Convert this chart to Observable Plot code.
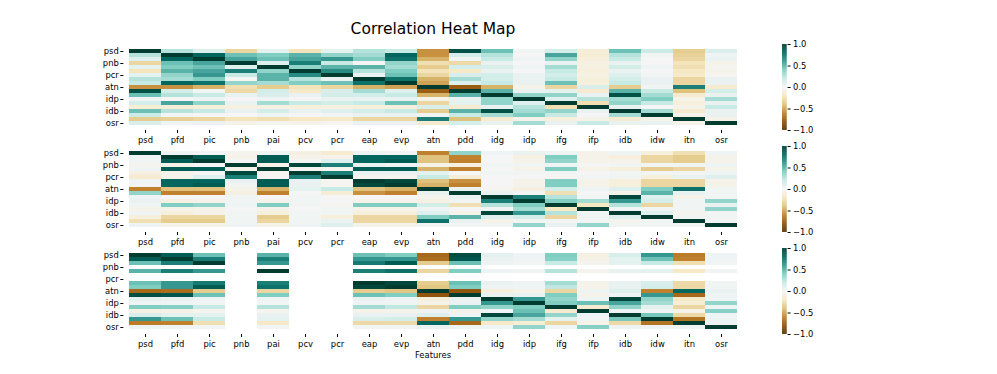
<!DOCTYPE html>
<html><head><meta charset="utf-8">
<script src="https://cdn.jsdelivr.net/npm/d3@7"></script>
<script src="https://cdn.jsdelivr.net/npm/@observablehq/plot@0.6"></script>
<style>
body{margin:0;background:#fff;}
#fig{position:relative;width:997px;height:374px;overflow:hidden;font-family:"DejaVu Sans",sans-serif;color:#000;}
#fig > *{position:absolute;}
.title{left:0;width:866px;text-align:center;font-size:15.5px;line-height:1;top:22px;}
.xlab{left:0;width:866px;text-align:center;font-size:8.4px;line-height:1;top:350.5px;}
</style></head><body><div id="fig"></div>
<script>
const features = ["psd","pfd","pic","pnb","pai","pcv","pcr","eap","evp","atn","pdd","idg","idp","ifg","ifp","idb","idw","itn","osr"];
const yTicks = ["psd","pnb","pcr","atn","idp","idb","osr"];
const cbarTicks = [-1, -0.5, 0, 0.5, 1];
const brbgStops = [-1,-0.8,-0.6,-0.4,-0.2,0,0.2,0.4,0.6,0.8,1];
const brbgColors = ["#543005","#8c510a","#bf812d","#dfc27d","#f6e8c3","#f5f5f5","#c7eae5","#80cdc1","#35978f","#01665e","#003c30"];
const N = null;

const panel1 = [
[1,.25,.10,-.30,.08,-.22,.08,.25,.20,-.55,.90,.45,.02,.15,-.12,.45,.18,-.35,.12],
[.25,1,.80,.45,.40,.50,.35,.30,.80,-.55,.15,.25,.00,.55,-.12,.25,.02,-.32,.03],
[.10,.80,1,.55,.45,.55,.60,.40,.75,-.45,.02,.20,.03,.35,-.10,.20,.00,-.30,.05],
[-.30,.45,.55,1,.10,.70,.20,.00,.35,-.25,-.28,.05,.00,.05,-.08,.05,.00,-.22,-.05],
[.08,.40,.45,.10,1,.35,.50,.50,.30,-.35,.15,.12,.03,.30,-.08,.15,.03,-.25,-.03],
[-.22,.50,.55,.70,.35,1,.65,.25,.40,-.22,-.18,.05,.00,.20,-.10,.05,.00,-.20,-.05],
[.08,.35,.60,.20,.50,.65,1,.05,.45,-.30,.12,.15,.05,.15,-.08,.10,.02,-.18,-.02],
[.25,.30,.40,.00,.50,.25,.05,1,.75,-.45,.30,.15,.05,.20,-.10,.15,.05,-.30,.05],
[.20,.80,.75,.35,.30,.40,.45,.75,1,-.50,.10,.20,.05,.45,-.10,.20,.05,-.30,.05],
[-.55,-.55,-.45,-.25,-.35,-.22,-.30,-.45,-.50,1,-.75,-.45,-.05,-.30,.12,-.35,.02,.70,-.15],
[.90,.15,.02,-.28,.15,-.18,.12,.30,.10,-.75,1,.50,.05,.08,-.15,.50,.20,-.40,.15],
[.45,.25,.20,.05,.12,.05,.15,.15,.20,-.45,.50,1,.35,.35,.05,.90,.30,-.15,.05],
[.02,.00,.03,.00,.03,.00,.05,.05,.05,-.05,.05,.35,1,.10,.25,.30,.40,-.05,.30],
[.15,.55,.35,.05,.30,.20,.15,.20,.45,-.30,.08,.35,.10,1,-.25,.35,.20,-.10,.05],
[-.12,-.12,-.10,-.08,-.08,-.10,-.08,-.10,-.10,.12,-.15,.05,.25,-.25,1,.05,.00,-.05,.20],
[.45,.25,.20,.05,.15,.05,.10,.15,.20,-.35,.50,.90,.30,.35,.05,1,.30,-.15,.05],
[.18,.02,.00,.00,.03,.00,.02,.05,.05,.02,.20,.30,.40,.20,.00,.30,1,-.05,.05],
[-.35,-.32,-.30,-.22,-.25,-.20,-.18,-.30,-.30,.70,-.40,-.15,-.05,-.10,-.05,-.15,-.05,1,-.05],
[.12,.03,.05,-.05,-.03,-.05,-.02,.05,.05,-.15,.15,.05,.30,.05,.20,.05,.05,-.05,1]
];

const panel2 = [
[1,.03,.02,-.03,.03,-.08,-.15,.03,.02,-.60,.35,.03,.05,.03,-.05,.03,-.10,-.25,.03],
[.03,1,.85,-.05,.85,-.05,-.05,.80,.80,-.40,-.60,.00,-.08,.40,-.05,-.10,-.30,-.35,-.05],
[.02,.85,1,.00,.85,.00,.10,.80,.85,-.40,-.60,.00,-.05,.35,-.05,-.05,-.30,-.35,-.05],
[-.03,-.05,.00,1,-.05,.95,.70,.05,.02,-.05,-.08,.02,.02,.03,.00,.02,.02,.02,.03],
[.03,.85,.85,-.05,1,-.02,-.02,.85,.85,-.45,-.60,.00,-.05,.40,-.05,-.10,-.35,-.30,-.05],
[-.08,-.05,.00,.95,-.02,1,.70,.05,.05,.08,.00,.02,.02,.02,.00,.02,.02,.02,.03],
[-.15,-.05,.10,.70,-.02,.70,1,-.02,-.02,.20,-.12,.00,.00,-.02,.02,.02,-.10,.05,.10],
[.03,.80,.80,.05,.85,.05,-.02,1,.95,-.40,-.55,.00,-.05,.40,-.05,-.10,-.30,-.30,-.05],
[.02,.80,.85,.02,.85,.05,-.02,.95,1,-.45,-.60,.00,-.05,.40,-.05,-.10,-.30,-.30,-.05],
[-.60,-.40,-.40,-.05,-.45,.08,.20,-.40,-.45,1,.05,-.03,-.08,.15,.03,.10,.40,.75,.02],
[.35,-.60,-.60,-.08,-.60,.00,-.12,-.55,-.60,.05,1,.05,.02,-.25,.00,-.05,.50,.05,.02],
[.03,.00,.00,.02,.00,.02,.00,.00,.00,-.03,.05,1,.70,.25,.02,.95,.10,-.05,.02],
[.05,-.08,-.05,.02,-.05,.02,.00,-.05,-.05,-.08,.02,.70,1,.40,.30,.60,.15,.02,.35],
[.03,.40,.35,.03,.40,.02,-.02,.40,.40,.15,-.25,.25,.40,1,-.20,.25,-.30,.02,.05],
[-.05,-.05,-.05,.00,-.05,.00,.02,-.05,-.05,.03,.00,.02,.30,-.20,1,.02,.02,.02,.35],
[.03,-.10,-.05,.02,-.10,.02,.02,-.10,-.10,.10,-.05,.95,.60,.25,.02,1,.10,-.03,.02],
[-.10,-.30,-.30,.02,-.35,.02,-.10,-.30,-.30,.40,.50,.10,.15,-.30,.02,.10,1,.02,.02],
[-.25,-.35,-.35,.02,-.30,.02,.05,-.30,-.30,.75,.05,-.05,.02,.02,.02,-.03,.02,1,.02],
[.03,-.05,-.05,.03,-.05,.03,.10,-.05,-.05,.02,.02,.02,.35,.05,.35,.02,.02,.02,1]
];

const panel3 = [
[1,.85,.45,N,.50,N,N,.45,.40,-.70,.92,.08,.03,.40,-.08,.12,.60,-.62,.03],
[.85,1,.70,N,.70,N,N,.60,.60,-.68,.88,.05,.03,.38,-.06,.08,.45,-.60,.03],
[.45,.70,1,N,.60,N,N,.72,.85,-.35,.45,.03,.02,.20,-.03,.08,.20,-.25,.02],
[N,N,N,N,N,N,N,N,N,N,N,N,N,N,N,N,N,N,N],
[.50,.70,.60,N,1,N,N,.70,.75,-.30,.40,.03,.02,.25,-.03,.05,.08,-.18,.02],
[N,N,N,N,N,N,N,N,N,N,N,N,N,N,N,N,N,N,N],
[N,N,N,N,N,N,N,N,N,N,N,N,N,N,N,N,N,N,N],
[.45,.60,.72,N,.70,N,N,1,.95,-.35,.45,.05,.03,.30,-.05,.05,.12,-.28,.02],
[.40,.60,.85,N,.75,N,N,.95,1,-.38,.40,.03,.03,.22,-.05,.05,.15,-.28,.02],
[-.70,-.68,-.35,N,-.30,N,N,-.35,-.38,1,-.78,-.10,-.05,-.30,.03,.10,-.60,.80,.05],
[.92,.88,.45,N,.40,N,N,.45,.40,-.78,1,.05,.05,.40,-.05,.03,.60,-.70,.03],
[.08,.05,.03,N,.03,N,N,.05,.03,-.10,.05,1,.60,.35,.03,.95,.35,-.18,.03],
[.03,.03,.02,N,.02,N,N,.03,.03,-.05,.05,.60,1,.40,.45,.55,.30,-.12,.35],
[.40,.38,.20,N,.25,N,N,.30,.22,-.30,.40,.35,.40,1,-.15,.35,.08,-.30,.03],
[-.08,-.06,-.03,N,-.03,N,N,-.05,-.05,.03,-.05,.03,.45,-.15,1,.03,.02,-.05,.38],
[.12,.08,.08,N,.05,N,N,.05,.05,.10,.03,.95,.55,.35,.03,1,.42,-.28,.03],
[.60,.45,.20,N,.08,N,N,.12,.15,-.60,.60,.35,.30,.08,.02,.42,1,-.65,.03],
[-.62,-.60,-.25,N,-.18,N,N,-.28,-.28,.80,-.70,-.18,-.12,-.30,-.05,-.28,-.65,1,.03],
[.03,.03,.02,N,.02,N,N,.02,.02,.05,.03,.03,.35,.03,.38,.03,.03,.03,1]
];

const fig = document.getElementById("fig");
const L = 123.3, R = 743, H = 86, mt = 4, mb = 18;
const tops = [44, 146, 248];
const colorOpts = {type: "linear", domain: brbgStops, range: brbgColors, interpolate: "rgb"};
const baseStyle = {background: "transparent", fontFamily: "DejaVu Sans", fontSize: "8.4px", color: "#000", overflow: "visible"};

function heat(matrix, top) {
  const data = [];
  matrix.forEach((row, i) => row.forEach((v, j) => {
    if (v != null) data.push({x: features[j], y: features[i], v});
  }));
  const p = Plot.plot({
    width: 997, height: H + mt + mb,
    marginLeft: L, marginRight: 997 - R, marginTop: mt, marginBottom: mb,
    style: baseStyle,
    x: {domain: features, padding: 0, tickSize: 3, tickPadding: 3.5, label: null},
    y: {domain: features, padding: 0, ticks: yTicks, tickSize: 3, tickPadding: 2, label: null},
    color: colorOpts,
    marks: [Plot.cell(data, {x: "x", y: "y", fill: "v", inset: 0, shapeRendering: "crispEdges"})]
  });
  p.style.left = "0px";
  p.style.top = (top - mt) + "px";
  fig.append(p);
}

function cbar(top) {
  const steps = d3.range(200).map(i => -1 + i * 0.01);
  const w = 50, bw = 4.6;
  const p = Plot.plot({
    width: w, height: H + mt + mb,
    marginLeft: 0, marginRight: w - bw, marginTop: mt, marginBottom: mb,
    style: baseStyle,
    x: {domain: [0, 1], axis: null},
    y: {domain: [-1, 1], ticks: cbarTicks, tickFormat: d3.format(".1f"), axis: "right", tickSize: 3, tickPadding: 3, label: null},
    color: colorOpts,
    marks: [Plot.rect(steps, {x1: () => 0, x2: () => 1, y1: d => d, y2: d => Math.min(1, d + 0.016), fill: d => d + 0.005})]
  });
  p.style.left = "781.5px";
  p.style.top = (top - mt) + "px";
  fig.append(p);
}

[panel1, panel2, panel3].forEach((m, k) => { heat(m, tops[k]); cbar(tops[k]); });

const t = document.createElement("div");
t.className = "title"; t.textContent = "Correlation Heat Map";
fig.append(t);
const xl = document.createElement("div");
xl.className = "xlab"; xl.textContent = "Features";
fig.append(xl);
</script>
</body></html>
